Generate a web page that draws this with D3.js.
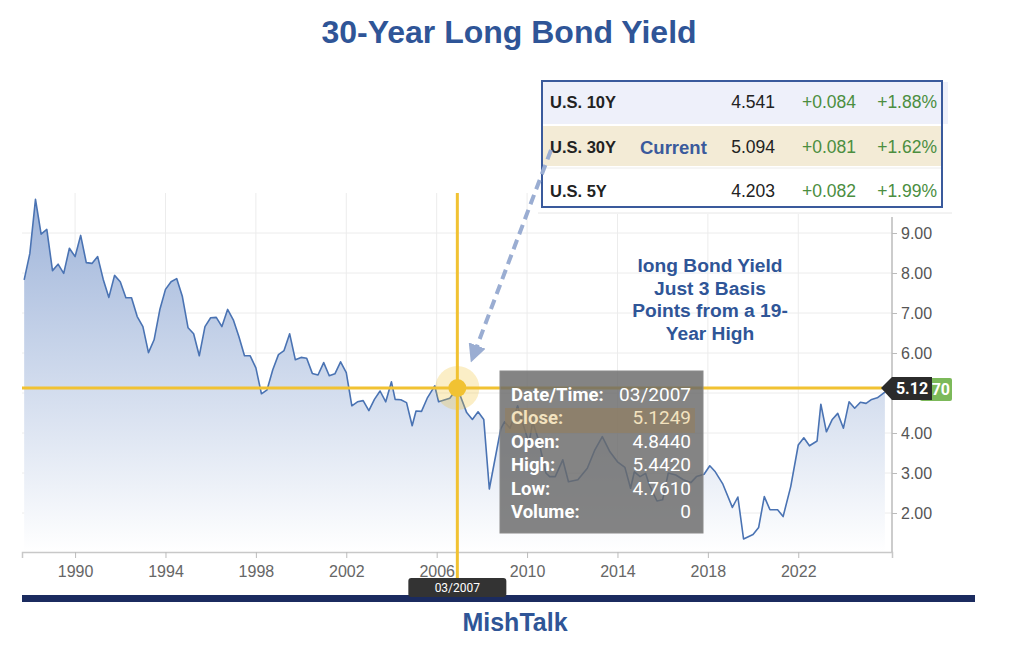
<!DOCTYPE html>
<html>
<head>
<meta charset="utf-8">
<script src="https://cdn.jsdelivr.net/npm/d3@7"></script>
<style>
  body { margin: 0; background: #fff; }
  svg { display: block; }
</style>
</head>
<body>
<div id="chart"></div>
<script>
// 30-year yield (month, close)
const dates = [
  "1987-10","1988-01","1988-04","1988-07","1988-10","1989-01","1989-04","1989-07","1989-10",
  "1990-01","1990-04","1990-07","1990-10","1991-01","1991-04","1991-07","1991-10",
  "1992-01","1992-04","1992-07","1992-10","1993-01","1993-04","1993-07","1993-10",
  "1994-01","1994-04","1994-07","1994-10","1995-01","1995-04","1995-07","1995-10",
  "1996-01","1996-04","1996-07","1996-10","1997-01","1997-04","1997-07","1997-10",
  "1998-01","1998-04","1998-07","1998-10","1999-01","1999-04","1999-07","1999-10",
  "2000-01","2000-04","2000-07","2000-10","2001-01","2001-04","2001-07","2001-10",
  "2002-01","2002-04","2002-07","2002-10","2003-01","2003-04","2003-07","2003-10",
  "2004-01","2004-03","2004-06","2004-09","2004-12","2005-02","2005-05","2005-08","2005-12",
  "2006-02","2006-08","2006-12","2007-05","2007-08","2007-11","2008-02","2008-05","2008-11",
  "2009-01","2009-04","2009-08","2009-11","2010-02","2010-04","2010-07","2010-11",
  "2011-01","2011-04","2011-08","2011-11","2012-04","2012-09","2013-01","2013-05","2013-09",
  "2014-01","2014-05","2014-08","2014-10","2015-01","2015-04","2015-06","2015-10",
  "2016-01","2016-04","2016-08","2016-12","2017-04","2017-07","2017-11",
  "2018-02","2018-05","2018-09","2019-02","2019-05","2019-08","2020-01","2020-04","2020-07","2020-10",
  "2021-02","2021-05","2021-09","2022-01","2022-04","2022-07","2022-11",
  "2023-01","2023-04","2023-07","2023-10","2024-01","2024-04","2024-07","2024-10",
  "2025-01","2025-04","2025-07","2025-11"
];
const yields = [
  7.83, 8.49, 9.84, 8.97, 9.09, 8.06, 8.22, 7.99, 8.62,
  8.41, 8.94, 8.26, 8.24, 8.41, 7.84, 7.39, 7.94,
  7.78, 7.38, 7.38, 6.91, 6.66, 6.01, 6.33, 7.08,
  7.59, 7.78, 7.86, 7.41, 6.63, 6.48, 5.93, 6.66,
  6.88, 6.89, 6.66, 7.09, 6.83, 6.41, 5.93, 5.93,
  5.63, 4.98, 5.08, 5.58, 5.96, 6.06, 6.48, 5.83,
  5.89, 5.87, 5.49, 5.45, 5.76, 5.43, 5.48, 5.78,
  5.51, 4.68, 4.78, 4.81, 4.56, 4.84, 5.05, 4.78,
  5.28, 4.84, 4.83, 4.76, 4.18, 4.55, 4.54, 4.87, 5.18,
  4.78, 4.87, 5.1249, 4.51, 4.34, 4.53, 4.34, 2.60, 4.10,
  4.28, 4.12, 4.68, 4.20, 3.75, 4.28, 3.85, 3.00,
  2.91, 2.91, 3.33, 2.78, 2.83, 3.12, 3.58, 3.91, 3.53,
  3.28, 3.14, 2.62, 3.03, 2.91, 2.99, 2.70, 2.30,
  2.33, 3.00, 2.95, 2.83, 2.76, 2.91, 2.97,
  3.18, 3.03, 2.72, 2.14, 2.40, 1.35, 1.46, 1.64, 2.41, 2.08,
  2.08, 1.91, 2.66, 3.70, 3.88, 3.68, 3.80,
  4.72, 4.03, 4.33, 4.49, 4.12, 4.78, 4.62, 4.77,
  4.74, 4.84, 4.88, 5.02
];

const yearTicks = [1990, 1994, 1998, 2002, 2006, 2010, 2014, 2018, 2022];
const yTicks = [2, 3, 4, 5, 6, 7, 8, 9];
const yTickLabels = ["2.00", "3.00", "4.00", "", "6.00", "7.00", "8.00", "9.00"];

// point under the crosshair
const hoverDate = "2006-12";
const tipLabels = ["Date/Time:", "Close:", "Open:", "High:", "Low:", "Volume:"];
const tipValues = ["03/2007", "5.1249", "4.8440", "5.4420", "4.7610", "0"];
const lastTail = "70";

// quote table
const tickers = ["U.S. 10Y", "U.S. 30Y", "U.S. 5Y"];
const lasts = ["4.541", "5.094", "4.203"];
const changes = ["+0.084", "+0.081", "+0.082"];
const changePcts = ["+1.88%", "+1.62%", "+1.99%"];

const noteLines = ["long Bond Yield", "Just 3 Basis", "Points from a 19-", "Year High"];

(function() {
    const W = 1024, H = 666;
    const left = 22, right = 892, top = 193, bottom = 552;
    const blue = "#2f5597";
    const gold = "#f1c232";

    const parse = d3.timeParse("%Y-%m");
    const data = dates.map((d, i) => ({ date: parse(d), key: d, value: yields[i] }));

    const svg = d3.select("#chart").append("svg")
        .attr("width", W)
        .attr("height", H)
        .style("font-family", "Roboto, 'Liberation Sans', sans-serif");

    svg.append("rect").attr("width", W).attr("height", H).attr("fill", "#fff");

    const x = d3.scaleTime()
        .domain([new Date(1987, 7, 27), new Date(2026, 1, 24)])
        .range([left, right]);
    const y = d3.scaleLinear()
        .domain([1.025, 10.075])
        .range([bottom, 190]);

    const yearDates = yearTicks.map(v => new Date(v, 0, 1));

    // grille
    svg.append("g").selectAll("line")
        .data(yearDates).enter().append("line")
        .attr("x1", d => x(d)).attr("x2", d => x(d))
        .attr("y1", top).attr("y2", bottom)
        .attr("stroke", "#ececec");
    svg.append("g").selectAll("line")
        .data(yTicks).enter().append("line")
        .attr("x1", left).attr("x2", right)
        .attr("y1", d => y(d)).attr("y2", d => y(d))
        .attr("stroke", "#ececec");

    // aire + ligne
    const defs = svg.append("defs");
    const grad = defs.append("linearGradient")
        .attr("id", "fillGrad")
        .attr("gradientUnits", "userSpaceOnUse")
        .attr("x1", 0).attr("x2", 0).attr("y1", 195).attr("y2", bottom);
    grad.append("stop").attr("offset", "0%").attr("stop-color", "#9db3d9");
    grad.append("stop").attr("offset", "100%").attr("stop-color", "#ffffff");

    const area = d3.area()
        .x(d => x(d.date))
        .y0(bottom)
        .y1(d => y(d.value));
    const line = d3.line()
        .x(d => x(d.date))
        .y(d => y(d.value));

    svg.append("path").datum(data)
        .attr("d", area)
        .attr("fill", "url(#fillGrad)");
    svg.append("path").datum(data)
        .attr("d", line)
        .attr("fill", "none")
        .attr("stroke", "#4a73b3")
        .attr("stroke-width", 1.6)
        .attr("stroke-linejoin", "round");

    // axes
    const xAxis = svg.append("g")
        .attr("transform", `translate(0,${bottom})`)
        .call(d3.axisBottom(x).tickValues(yearDates).tickFormat(d3.timeFormat("%Y")).tickSize(6).tickPadding(8));
    xAxis.select(".domain").attr("stroke", "#c8c8c8").attr("stroke-width", 1.5);
    xAxis.selectAll(".tick line").attr("stroke", "#bbb");
    xAxis.selectAll("text").attr("fill", "#666").style("font-size", "16px");

    const yAxis = svg.append("g")
        .attr("transform", `translate(${right},0)`)
        .call(d3.axisRight(y).tickValues(yTicks).tickFormat((d, i) => yTickLabels[i]).tickSize(5).tickPadding(4));
    yAxis.select(".domain").attr("d", `M0,217V${bottom}`).attr("stroke", "#bbb").attr("stroke-width", 1.5);
    yAxis.selectAll(".tick line").attr("stroke", "#bbb");
    yAxis.selectAll("text").attr("fill", "#555").style("font-size", "16px");

    // réticule
    const hp = data.find(d => d.key === hoverDate);
    const hx = x(hp.date), hy = y(hp.value);
    svg.append("line")
        .attr("x1", left).attr("x2", 882).attr("y1", hy).attr("y2", hy)
        .attr("stroke", gold).attr("stroke-width", 3);
    svg.append("line")
        .attr("x1", hx).attr("x2", hx).attr("y1", top).attr("y2", 582)
        .attr("stroke", gold).attr("stroke-width", 3);

    // tableau des cotations
    const tbl = svg.append("g");
    tbl.append("rect").attr("x", 538).attr("y", 76).attr("width", 414).attr("height", 138).attr("fill", "#fff");
    tbl.append("line").attr("x1", 538).attr("x2", 952).attr("y1", 213).attr("y2", 213).attr("stroke", "#e6e6e6");
    tbl.append("rect").attr("x", 543).attr("y", 82).attr("width", 405).attr("height", 42).attr("fill", "#eef0fa");
    tbl.append("rect").attr("x", 543).attr("y", 126).attr("width", 398).attr("height", 40).attr("fill", "#f3ebd6");
    tbl.append("line").attr("x1", 543).attr("x2", 941).attr("y1", 168).attr("y2", 168).attr("stroke", "#ececec");
    tbl.append("rect").attr("x", 542).attr("y", 81).attr("width", 400).attr("height", 126)
        .attr("fill", "none").attr("stroke", "#3a5a9c").attr("stroke-width", 2);

    const rowY = [108, 153, 197];
    const tf = "'Liberation Sans', Arial, sans-serif";
    tickers.forEach((t, i) => {
        const g = tbl.append("g").style("font-family", tf);
        g.append("text").attr("x", 550).attr("y", rowY[i]).style("font-size", "16.5px")
            .attr("font-weight", "bold").attr("fill", "#222").text(t);
        g.append("text").attr("x", 775).attr("y", rowY[i]).style("font-size", "17.5px")
            .attr("text-anchor", "end").attr("fill", "#222").text(lasts[i]);
        g.append("text").attr("x", 856).attr("y", rowY[i]).style("font-size", "17.5px")
            .attr("text-anchor", "end").attr("fill", "#4b8e3f").text(changes[i]);
        g.append("text").attr("x", 937).attr("y", rowY[i]).style("font-size", "17.5px")
            .attr("text-anchor", "end").attr("fill", "#4b8e3f").text(changePcts[i]);
    });
    tbl.append("text").attr("x", 640).attr("y", 154)
        .style("font-family", tf).style("font-size", "18.5px").attr("font-weight", "bold")
        .attr("fill", "#3a5a9c").text("Current");

    // annotation
    svg.append("g").selectAll("text")
        .data(noteLines).enter().append("text")
        .attr("x", 710).attr("y", (d, i) => 272 + i * 22.6)
        .attr("text-anchor", "middle")
        .style("font-family", tf).style("font-size", "19.2px").attr("font-weight", "bold")
        .attr("fill", blue).text(d => d);

    defs.append("marker")
        .attr("id", "arrowHead")
        .attr("viewBox", "0 0 10 10")
        .attr("refX", 5).attr("refY", 5)
        .attr("markerWidth", 4.5).attr("markerHeight", 4.5)
        .attr("orient", "auto")
        .append("path").attr("d", "M0,0L10,5L0,10z").attr("fill", "#9aadd2");
    svg.append("line")
        .attr("x1", 551).attr("y1", 150).attr("x2", 474).attr("y2", 354)
        .attr("stroke", "#9aadd2").attr("stroke-width", 4)
        .attr("stroke-dasharray", "10,6")
        .attr("marker-end", "url(#arrowHead)");

    // point survolé
    svg.append("circle").attr("cx", hx).attr("cy", hy).attr("r", 22).attr("fill", gold).attr("opacity", 0.28);
    svg.append("circle").attr("cx", hx).attr("cy", hy).attr("r", 9).attr("fill", gold);

    // infobulle
    const tip = svg.append("g");
    tip.append("rect").attr("x", 500).attr("y", 371).attr("width", 203).attr("height", 162)
        .attr("fill", "rgba(105,105,105,0.82)").attr("stroke", "#8a8a8a");
    tip.append("rect").attr("x", 505).attr("y", 408).attr("width", 190).attr("height", 25)
        .attr("fill", "rgba(150,125,90,0.55)");
    tipLabels.forEach((l, i) => {
        const col = i === 1 ? "#f2e2bf" : "#fff";
        tip.append("text").attr("x", 511).attr("y", 401 + i * 23.4)
            .attr("font-weight", "bold").style("font-size", "18.5px").attr("fill", col).text(l);
        tip.append("text").attr("x", 691).attr("y", 401 + i * 23.4)
            .attr("text-anchor", "end").style("font-size", "19px").attr("fill", col).text(tipValues[i]);
    });

    // étiquettes de prix à droite
    svg.append("rect").attr("x", 920).attr("y", 378).attr("width", 32).attr("height", 23).attr("rx", 2).attr("fill", "#7cb95a");
    svg.append("text").attr("x", 950).attr("y", 395).attr("text-anchor", "end")
        .style("font-size", "16px").attr("font-weight", "bold").attr("fill", "#fff").text(lastTail);
    svg.append("path")
        .attr("d", `M881,${hy} L892,${hy - 11} H932 V${hy + 12} H892 Z`)
        .attr("fill", "#2b2b2b");
    svg.append("text").attr("x", 912).attr("y", hy + 6).attr("text-anchor", "middle")
        .style("font-size", "16px").attr("font-weight", "bold").attr("fill", "#fff")
        .text(d3.format(".2f")(hp.value));

    // barre du bas et étiquette de date
    svg.append("rect").attr("x", 22).attr("y", 595).attr("width", 953).attr("height", 7).attr("fill", "#1b2b5f");
    svg.append("rect").attr("x", hx - 49).attr("y", 578).attr("width", 98).attr("height", 19).attr("rx", 3).attr("fill", "#333");
    svg.append("text").attr("x", hx).attr("y", 592).attr("text-anchor", "middle")
        .style("font-size", "12px").attr("fill", "#fff").text(tipValues[0]);

    svg.append("text").attr("x", 515).attr("y", 631).attr("text-anchor", "middle")
        .style("font-family", tf).style("font-size", "25px").attr("font-weight", "bold")
        .attr("fill", blue).text("MishTalk");

    svg.append("text").attr("x", 509).attr("y", 43).attr("text-anchor", "middle")
        .style("font-family", tf).style("font-size", "32px").attr("font-weight", "bold")
        .attr("fill", blue).text("30-Year Long Bond Yield");
})();
</script>
</body>
</html>
